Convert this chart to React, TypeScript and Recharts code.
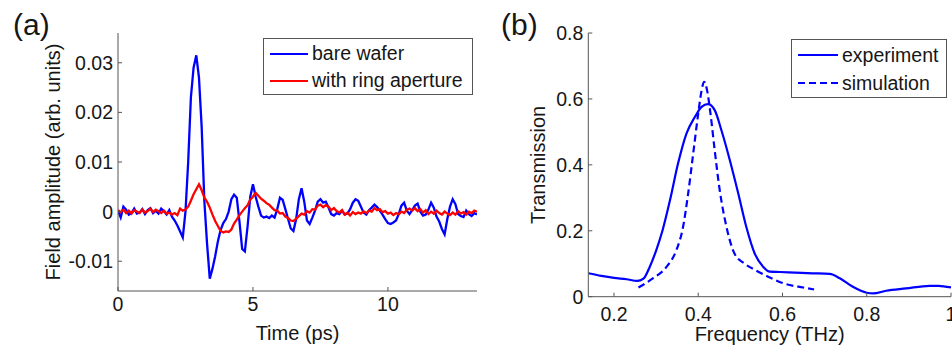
import React from 'react';
import { LineChart, Line, XAxis, YAxis, Legend } from 'recharts';

const FONT = '"Liberation Sans", Arial, Helvetica, sans-serif';
const INK = '#161616';
const FRAME = '#555';

// (a) time-domain traces, one sample every 0.1 ps, values in 1e-3 arb. units
const TIME_STEP = 0.1;
const bareWafer = [
  0.2, -1.2, 1.0, 0.4, -0.6, -0.3, 0.6, -0.4, -0.2, 0.5,
  -0.5, 0.3, 0.7, -0.3, 0.2, -0.4, 0.6, 0.1, -0.6, 0.3,
  -1.0, -1.8, -2.8, -4.0, -5.2, 0, 10, 23, 29, 31.5,
  27, 17, 2, -6.5, -13.5, -11.5, -9, -6, -3.7, -2.3,
  -1.5, 0, 2.5, 3.4, 2.8, -2, -7.5, -8, -3, 3,
  5.5, 3, 1, -0.8, -1.2, -1.0, -1.3, -0.8, -1.2, 0.5,
  2.8, 2.4, 0.5, -1.5, -3.4, -3.9, -1.5, 2.5, 4.7, 2.0,
  -1.8, -2.5, -1.2, 0.2, 2.0, 2.5, 1.8, 2.0, 0.8, -0.5,
  -0.8, -0.3, -0.5, 0.2, -0.6, -0.4, 0.5, 1.8, 2.5, 2.2,
  1.0, -0.2, -0.6, 0.3, 0.8, 1.4, 0.9, 0.2, -0.6, -1.5,
  -2.3, -2.5, -2.2, -1.8, -0.5, 1.2, 1.8, 0.2, -0.5, 0.3,
  1.2, 1.6, 0, -0.8, -0.6, 0.4, 1.8, 0.8, -1.0, -2.0,
  -3.5, -4.6, -1.5, 1.0, 2.5, 1.5, -0.5, -0.9, -1.1, 0.2,
  -0.5, -0.9, -0.3, -0.6,
];
const ringAperture = [
  0.3, -0.1, 0.4, -0.3, 0.2, -0.4, 0.3, 0.0, -0.3, 0.4,
  -0.2, 0.1, 0.6, -0.1, 0.4, 0.1, -0.3, 0.2, -0.4, -0.2,
  -0.6, -0.3, -0.7, 0.6, 0.2, 0.4, 1.0, 2.2, 3.5, 4.5,
  5.5, 4.3, 2.8, 2.0, 0.8, -0.6, -1.9, -2.9, -3.9, -4.2,
  -4.0, -4.1, -3.6, -2.4, -1.6, -0.7, 0.0, 0.7, 1.3, 2.4,
  3.0, 3.8, 3.2, 2.6, 2.2, 1.7, 1.4, 0.8, 0.3, 0.2,
  -0.4, -0.3, -1.0, -1.3, -1.8, -1.9, -1.4, -0.9, -0.4, -0.6,
  0.1, -0.2, 0.5, 0.4, 1.2, 1.4, 0.9, 1.3, 1.0, 0.3,
  0.7, 0.1, -0.2, 0.3, -0.6, -0.2, -0.8, -0.1, -0.5, -0.2,
  -0.4, 0.1, -0.3, 0.2, 0.0, 0.7, 0.3, 0.5, -0.1, 0.1,
  -0.4, -0.2, -0.7, -0.3, -0.5, 0.0, -0.3, 0.4, 0.6, 0.2,
  0.7, 0.1, 0.5, -0.2, 0.3, -0.5, 0.0, -0.4, 0.2, -0.3,
  -0.6, 0.0, -0.4, -0.7, -0.2, -0.6, 0.1, -0.4, -0.1, -0.6,
  0.0, -0.3, 0.2, 0.0,
];
const timeTicks = [0, 5, 10];
const fieldTicks = [-0.01, 0, 0.01, 0.02, 0.03];

// (b) transmission spectra
const expFreq = [0.139, 0.17, 0.2, 0.23, 0.255, 0.27, 0.285, 0.3, 0.315, 0.333, 0.352, 0.372, 0.392, 0.408, 0.423, 0.439, 0.455, 0.475, 0.495, 0.514, 0.534, 0.554, 0.57, 0.594, 0.63, 0.672, 0.712, 0.736, 0.767, 0.8, 0.815, 0.846, 0.893, 0.949, 0.97, 1.0];
const expTrans = [0.071, 0.063, 0.057, 0.053, 0.048, 0.055, 0.091, 0.14, 0.2, 0.293, 0.404, 0.495, 0.545, 0.576, 0.584, 0.566, 0.505, 0.414, 0.313, 0.212, 0.131, 0.091, 0.076, 0.075, 0.073, 0.071, 0.069, 0.056, 0.03, 0.012, 0.01, 0.018, 0.025, 0.033, 0.033, 0.028];
const simFreq = [0.258, 0.293, 0.325, 0.348, 0.364, 0.376, 0.388, 0.4, 0.408, 0.414, 0.421, 0.429, 0.439, 0.451, 0.467, 0.486, 0.51, 0.538, 0.57, 0.609, 0.649, 0.675];
const simTrans = [0.028, 0.056, 0.091, 0.141, 0.212, 0.313, 0.434, 0.556, 0.626, 0.652, 0.626, 0.556, 0.445, 0.323, 0.212, 0.131, 0.1, 0.079, 0.058, 0.038, 0.028, 0.022];
const freqTicks = [0.2, 0.4, 0.6, 0.8, 1];
const transTicks = [0, 0.2, 0.4, 0.6, 0.8];

const timeData = bareWafer.map((v, i) => ({
  t: Number((i * TIME_STEP).toFixed(1)),
  bare: v / 1000,
  ring: ringAperture[i] / 1000,
}));
const expData = expFreq.map((f, i) => ({ f, T: expTrans[i] }));
const simData = simFreq.map((f, i) => ({ f, T: simTrans[i] }));

const tickStyle = { fill: INK, fontSize: 19.5, fontFamily: FONT };

const YTitle = (props: any) => {
  const { viewBox, text, dx } = props;
  const cx = viewBox.x + viewBox.width - dx;
  const cy = viewBox.y + viewBox.height / 2;
  return (
    <text x={cx} y={cy} transform={`rotate(-90 ${cx} ${cy})`} textAnchor="middle"
      dominantBaseline="central" fill={INK} fontSize={20} fontFamily={FONT}>{text}</text>
  );
};

const XTitle = (props: any) => {
  const { viewBox, text, dy } = props;
  return (
    <text x={viewBox.x + viewBox.width / 2} y={viewBox.y + dy} textAnchor="middle"
      fill={INK} fontSize={20} fontFamily={FONT}>{text}</text>
  );
};

const BoxLegend = ({ payload, width, height, rowH, lineW }: any) => (
  <div style={{
    boxSizing: 'border-box', width, height, border: `1px solid ${FRAME}`, background: '#fff',
    padding: '1px 0 0 6px', fontFamily: FONT, fontSize: 19.5, color: INK,
  }}>
    {(payload || []).map((p: any) => (
      <div key={p.value} style={{ display: 'flex', alignItems: 'center', height: rowH, whiteSpace: 'nowrap' }}>
        <svg width={lineW} height={4} style={{ marginRight: 4 }}>
          <line x1={0} x2={lineW} y1={2} y2={2} stroke={p.color} strokeWidth={2}
            strokeDasharray={p.payload?.strokeDasharray} />
        </svg>
        <span>{p.value}</span>
      </div>
    ))}
  </div>
);

const fmt = (v: number) => String(v);

export default function App() {
  return (
    <div style={{ position: 'absolute', left: 0, top: 0, width: 952, height: 345, overflow: 'hidden', background: '#fff' }}>
      <div style={{ position: 'absolute', left: 13, top: 8, fontFamily: FONT, fontSize: 30, color: INK }}>(a)</div>
      <div style={{ position: 'absolute', left: 501, top: 8, fontFamily: FONT, fontSize: 30, color: INK }}>(b)</div>

      <div style={{ position: 'absolute', left: 0, top: 0 }}>
        <LineChart width={480} height={345} data={timeData} margin={{ top: 33, right: 3, bottom: 0, left: 0 }}>
          <XAxis dataKey="t" type="number" domain={[0, 13.3]} allowDataOverflow ticks={timeTicks} interval={0}
            height={54} tickSize={-4} tickMargin={10} stroke={FRAME} tick={tickStyle} tickFormatter={fmt}
            label={<XTitle text="Time (ps)" dy={49} />} />
          <XAxis xAxisId="top" orientation="top" dataKey="t" type="number" domain={[0, 13.3]} allowDataOverflow
            ticks={timeTicks} interval={0} height={0} tickSize={-4} stroke={FRAME} tick={false} />
          <YAxis type="number" domain={[-0.016, 0.036]} allowDataOverflow ticks={fieldTicks} interval={0}
            width={118} tickSize={-4} tickMargin={9} stroke={FRAME} tick={tickStyle} tickFormatter={fmt}
            label={<YTitle text="Field amplitude (arb. units)" dx={65.5} />} />
          <YAxis yAxisId="right" orientation="right" type="number" domain={[-0.016, 0.036]} allowDataOverflow
            ticks={fieldTicks} interval={0} width={0} tickSize={-4} stroke={FRAME} tick={false} />
          <Line dataKey="bare" name="bare wafer" type="linear" stroke="#0000ff" strokeWidth={2.3}
            dot={false} isAnimationActive={false} />
          <Line dataKey="ring" name="with ring aperture" type="linear" stroke="#ff0000" strokeWidth={2.3}
            dot={false} isAnimationActive={false} />
          <Legend layout="vertical" align="center" verticalAlign="middle"
            wrapperStyle={{ left: 263, top: 38, width: 210, height: 57 }}
            content={(props: any) => <BoxLegend {...props} width={210} height={57} rowH={27} lineW={38} />} />
        </LineChart>
      </div>

      <div style={{ position: 'absolute', left: 480, top: 0 }}>
        <LineChart width={472} height={345} margin={{ top: 33, right: 1, bottom: 0, left: 0 }}>
          <XAxis dataKey="f" type="number" domain={[0.139, 1.0]} allowDataOverflow ticks={freqTicks} interval={0}
            height={48.3} tickSize={-4} tickMargin={14} stroke={FRAME} tick={tickStyle} tickFormatter={fmt}
            label={<XTitle text="Frequency (THz)" dy={44} />} />
          <XAxis xAxisId="top" orientation="top" dataKey="f" type="number" domain={[0.139, 1.0]} allowDataOverflow
            ticks={freqTicks} interval={0} height={0} tickSize={-4} stroke={FRAME} tick={false} />
          <YAxis type="number" domain={[0, 0.8]} allowDataOverflow ticks={transTicks} interval={0}
            width={108.3} tickSize={-4} tickMargin={9} stroke={FRAME} tick={tickStyle} tickFormatter={fmt}
            label={<YTitle text="Transmission" dx={50.3} />} />
          <YAxis yAxisId="right" orientation="right" type="number" domain={[0, 0.8]} allowDataOverflow
            ticks={transTicks} interval={0} width={0} tickSize={-4} stroke={FRAME} tick={false} />
          <Line data={expData} dataKey="T" name="experiment" type="monotone" stroke="#0000ff" strokeWidth={2.2}
            dot={false} isAnimationActive={false} />
          <Line data={simData} dataKey="T" name="simulation" type="monotone" stroke="#0000ff" strokeWidth={2.2}
            strokeDasharray="7 4" dot={false} isAnimationActive={false} />
          <Legend layout="vertical" align="center" verticalAlign="middle"
            wrapperStyle={{ left: 311, top: 39, width: 156, height: 59 }}
            content={(props: any) => <BoxLegend {...props} width={156} height={59} rowH={28} lineW={40} />} />
        </LineChart>
      </div>
    </div>
  );
}
